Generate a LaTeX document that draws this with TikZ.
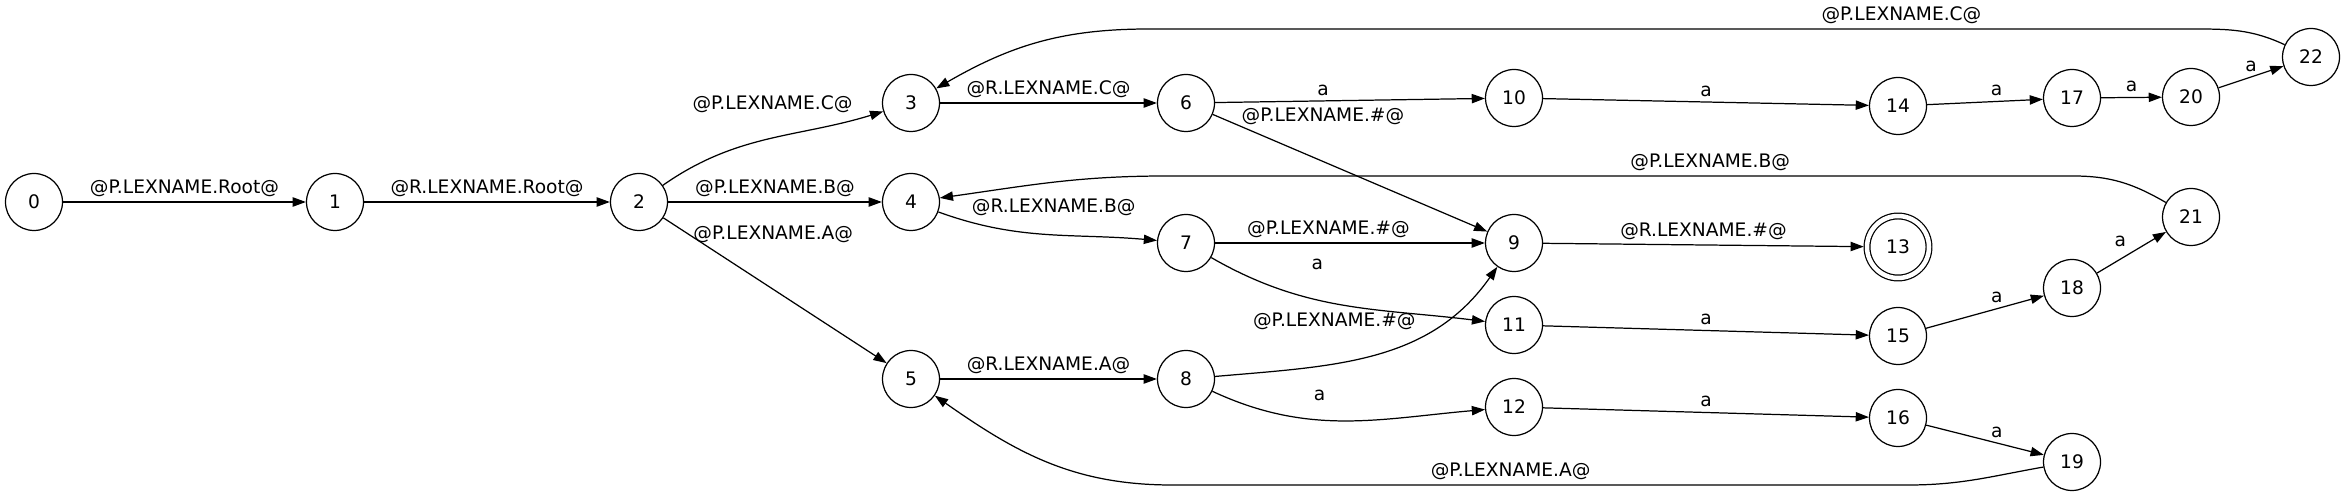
\documentclass[tikz,border=0pt]{standalone}
\usepackage{fontspec}
\setmainfont{DejaVu Sans}
\usetikzlibrary{arrows.meta}

\begin{document}
\begin{tikzpicture}[x=0.02cm, y=0.02cm, font=\fontsize{10.6}{12}\selectfont,
        >={Triangle[length=7.5pt,width=5.3pt]},
        st/.style={draw, circle, line width=0.7pt, minimum size=1.14cm, inner sep=0pt},
        fin/.style={st, double, double distance=0.09cm, minimum size=1.24cm, outer sep=0.065cm},
        tr/.style={->, line width=0.7pt}]
        \useasboundingbox (0,0) rectangle (2347,497);
        \tikzset{every node/.append style={inner sep=2.8pt}}
        % states
        \node[st] (n0) at (34,295) {0};
        \node[st] (n1) at (335,295) {1};
        \node[st] (n2) at (639,295) {2};
        \node[st] (n3) at (911,394) {3};
        \node[st] (n4) at (911,295) {4};
        \node[st] (n5) at (911,118) {5};
        \node[st] (n6) at (1186,394) {6};
        \node[st] (n7) at (1186,254) {7};
        \node[st] (n8) at (1186,118) {8};
        \node[st] (n9) at (1514,254) {9};
        \node[st] (n10) at (1514,399) {10};
        \node[st] (n11) at (1514,172) {11};
        \node[st] (n12) at (1514,90) {12};
        \node[fin] (n13) at (1898,250) {13};
        \node[st] (n14) at (1898,391) {14};
        \node[st] (n15) at (1898,161) {15};
        \node[st] (n16) at (1898,79) {16};
        \node[st] (n17) at (2072,399) {17};
        \node[st] (n18) at (2072,209) {18};
        \node[st] (n19) at (2072,35) {19};
        \node[st] (n20) at (2191,400) {20};
        \node[st] (n21) at (2191,280) {21};
        \node[st] (n22) at (2311,440) {22};
        % transitions
        \draw[tr] (n0) -- node[above]{@P.LEXNAME.Root@} (n1);
        \draw[tr] (n1) -- node[above]{@R.LEXNAME.Root@} (n2);
        \draw[tr] (n2) to[out=35,in=197] node[pos=0.9, above left]{@P.LEXNAME.C@} (n3);
        \draw[tr] (n2) -- node[above]{@P.LEXNAME.B@} (n4);
        \draw[tr] (n2) -- node[pos=0.11, anchor=west]{@P.LEXNAME.A@} (n5);
        \draw[tr] (n3) -- node[above]{@R.LEXNAME.C@} (n6);
        \draw[tr] (n4) to[out=-20,in=175] node[pos=0.12, above right]{@R.LEXNAME.B@} (n7);
        \draw[tr] (n5) -- node[above]{@R.LEXNAME.A@} (n8);
        \draw[tr] (n6) -- node[pos=0.4, above]{a} (n10);
        \draw[tr] (n6) -- node[pos=0.1, anchor=south west, inner sep=0.5pt]{@P.LEXNAME.\#@} (n9);
        \draw[tr] (n7) -- node[pos=0.42, above]{@P.LEXNAME.\#@} (n9);
        \draw[tr] (n7) to[out=-30,in=173] node[pos=0.4, above=14pt]{a} (n11);
        \draw[tr] (n8) to[out=5,in=235] node[pos=0.67, above left]{@P.LEXNAME.\#@} (n9);
        \draw[tr] (n8) to[out=-25,in=185] node[pos=0.4, above=8pt]{a} (n12);
        \draw[tr] (n9) -- node[above]{@R.LEXNAME.\#@} (n13);
        \draw[tr] (n10) -- node[above]{a} (n14);
        \draw[tr] (n11) -- node[above]{a} (n15);
        \draw[tr] (n12) -- node[above]{a} (n16);
        \draw[tr] (n14) -- node[pos=0.6, above]{a} (n17);
        \draw[tr] (n17) -- node[above]{a} (n20);
        \draw[tr] (n20) -- node[above]{a} (n22);
        \draw[tr] (n15) -- node[pos=0.6, above]{a} (n18);
        \draw[tr] (n18) -- node[above left]{a} (n21);
        \draw[tr] (n16) -- node[pos=0.6, above]{a} (n19);
        % back edges
        \draw[tr] (n22) to[out=155,in=0] (2194,468) -- node[pos=0.28, above]{@P.LEXNAME.C@} (1149,468) to[out=180,in=30] (n3);
        \draw[tr] (n21) to[out=150,in=0] (2073,321) -- node[pos=0.4, above]{@P.LEXNAME.B@} (1166,321) to[out=180,in=8] (n4);
        \draw[tr] (n19) to[out=190,in=0] (1908,12) -- node[pos=0.54, above]{@P.LEXNAME.A@} (1172,12) to[out=180,in=-35] (n5);
\end{tikzpicture}
\end{document}
